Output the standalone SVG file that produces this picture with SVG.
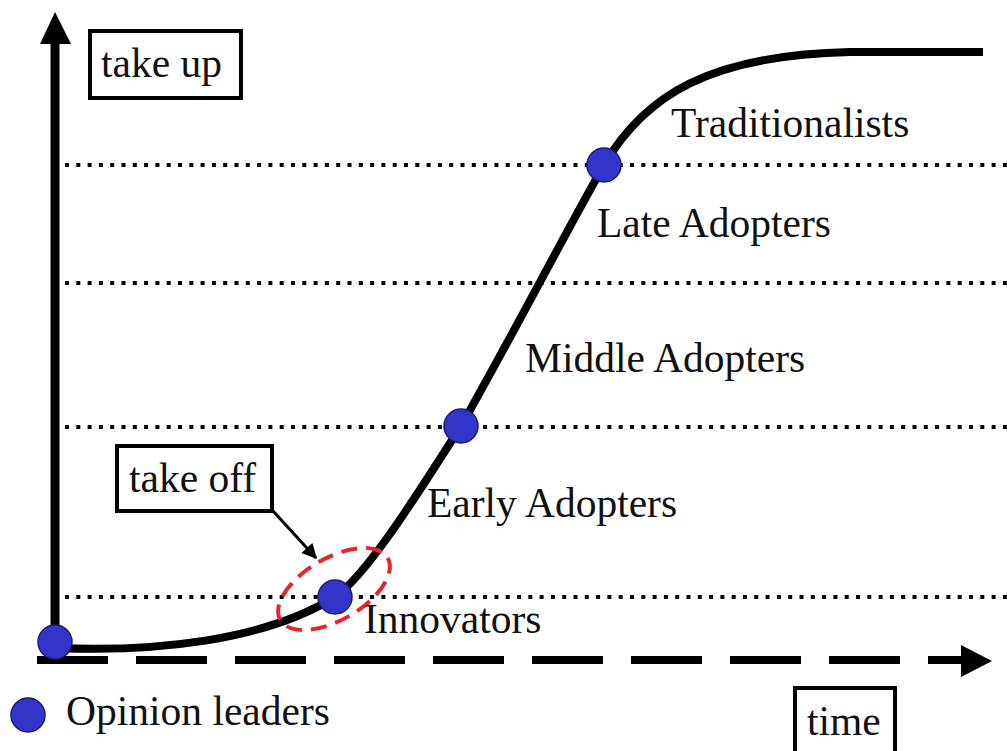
<svg xmlns="http://www.w3.org/2000/svg" width="1007" height="751" viewBox="0 0 1007 751">
  <style>
    .lbl { font-family: "Liberation Serif", "Times New Roman", serif; font-size: 41.5px; fill: #111; }
    .box { fill: #fff; stroke: #000; stroke-width: 4; }
    .grid { stroke: #000; stroke-width: 4; stroke-dasharray: 4 7.3; fill: none; }
    .dot { fill: #3434c8; stroke: #1c1c7a; stroke-width: 1.5; }
  </style>
  <defs>
    <marker id="smallArrow" viewBox="0 0 10 10" refX="9" refY="5" markerWidth="5.5" markerHeight="5" orient="auto" markerUnits="strokeWidth">
      <path d="M0,0 L10,5 L0,10 z" fill="#000"/>
    </marker>
  </defs>
  <rect width="1007" height="751" fill="#fff"/>

  <!-- level lines -->
  <g id="levels">
    <line class="grid" x1="65" y1="165" x2="1007" y2="165"/>
    <line class="grid" x1="65" y1="283" x2="1007" y2="283"/>
    <line class="grid" x1="65" y1="427" x2="1007" y2="427"/>
    <line class="grid" x1="65" y1="597" x2="1007" y2="597"/>
  </g>

  <!-- axes -->
  <g id="axes">
    <line x1="55" y1="40" x2="55" y2="645" stroke="#000" stroke-width="9"/>
    <polygon points="40,44 55,12 71,44" fill="#000"/>
    <line x1="37" y1="660" x2="963" y2="660" stroke="#000" stroke-width="8" stroke-dasharray="71 28"/>
    <polygon points="961,645 992,661 961,677" fill="#000"/>
  </g>

  <!-- adoption curve and callout arrow -->
  <g id="connectors">
    <path d="M57,648 C150,652 262,642 335,597 C368,574 420,490 461,426 C510,340 568,228 604,165 C645,95 710,55 850,52 L983,52" fill="none" stroke="#000" stroke-width="8"/>
    <line x1="273" y1="511" x2="316" y2="558" stroke="#000" stroke-width="3" marker-end="url(#smallArrow)"/>
    <ellipse cx="334" cy="589" rx="62" ry="31" transform="rotate(-30 334 589)" fill="none" stroke="#e8232b" stroke-width="4" stroke-dasharray="16 9"/>
  </g>

  <!-- opinion leader markers -->
  <g id="leaders">
    <circle class="dot" cx="55" cy="642" r="17"/>
    <circle class="dot" cx="335" cy="597" r="17"/>
    <circle class="dot" cx="461" cy="426" r="17"/>
    <circle class="dot" cx="604" cy="165" r="17"/>
  </g>

  <g id="take-up">
    <rect class="box" x="90" y="31" width="151" height="67"/>
    <text class="lbl" x="101" y="77">take up</text>
  </g>
  <g id="take-off">
    <rect class="box" x="117" y="446" width="155" height="65"/>
    <text class="lbl" x="129" y="492">take off</text>
  </g>
  <g id="time">
    <rect class="box" x="795" y="688" width="100" height="70"/>
    <text class="lbl" x="807" y="735">time</text>
  </g>

  <g id="segments">
    <text class="lbl" x="671" y="137">Traditionalists</text>
    <text class="lbl" x="597" y="237">Late Adopters</text>
    <text class="lbl" x="525" y="372">Middle Adopters</text>
    <text class="lbl" x="427" y="517">Early Adopters</text>
    <text class="lbl" x="364" y="633">Innovators</text>
  </g>

  <g id="legend">
    <circle class="dot" cx="28" cy="715" r="17"/>
    <text class="lbl" x="66" y="725">Opinion leaders</text>
  </g>
</svg>
